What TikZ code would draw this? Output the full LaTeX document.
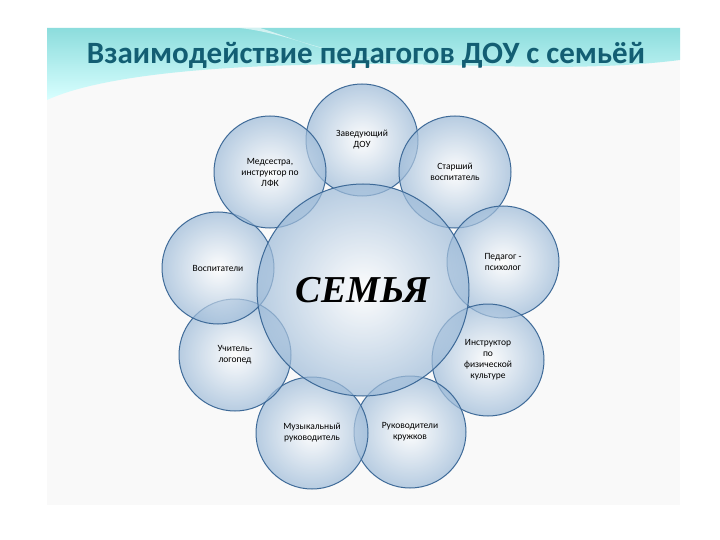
\documentclass[tikz,border=0pt]{standalone}
\usepackage{fontspec}
\setmainfont{Carlito}
\newfontfamily\serifbi{Liberation Serif}
\definecolor{edge}{HTML}{3E6A98}
\definecolor{rim}{HTML}{9CBAD8}
\begin{document}
\begin{tikzpicture}[x=1pt,y=-1pt,
  bub/.style={circle,draw=edge,line width=1pt,inner color=white,outer color=rim,fill opacity=0.7,minimum size=#1,align=center,text opacity=1,font=\fontsize{9.5}{11}\selectfont},
  bub/.default=112pt]
\useasboundingbox (0,0) rectangle (720,540);
\fill[white] (0,0) rectangle (720,540);
\fill[gray!5] (47,28) rectangle (680,505);
% banner
\shade[top color=cyan!40!teal!45,bottom color=cyan!15] (47,28) -- (680,28) -- (680,60) .. controls (560,75) and (450,60) .. (300,65) .. controls (180,68) and (90,80) .. (47,100) -- cycle;
\fill[white,opacity=0.6] (240,28) .. controls (300,35) and (330,60) .. (420,62) .. controls (330,58) and (300,40) .. (260,28) -- cycle;
\node (title) at (366,55) {\fontsize{31}{34}\selectfont\bfseries\color[HTML]{135E73}Взаимодействие педагогов ДОУ с семьёй};
% outer bubbles
\node[bub] (a) at (362,140) {Заведующий\\ДОУ};
\node[bub] (b) at (455,172) {Старший\\воспитатель};
\node[bub] (c) at (503,262) {Педагог -\\психолог};
\node[bub] (d) at (488,360) {Инструктор\\по\\физической\\культуре};
\node[bub] (e) at (410,432) {Руководители\\кружков};
\node[bub] (f) at (312,433) {Музыкальный\\руководитель};
\node[bub] (g) at (235,355) {Учитель-\\логопед};
\node[bub] (h) at (218,268) {Воспитатели};
\node[bub] (i) at (270,172) {Медсестра,\\инструктор по\\ЛФК};
% center
\node[bub=212pt] (s) at (363,290) {\serifbi\bfseries\itshape\fontsize{38}{40}\selectfont СЕМЬЯ};
\end{tikzpicture}
\end{document}
